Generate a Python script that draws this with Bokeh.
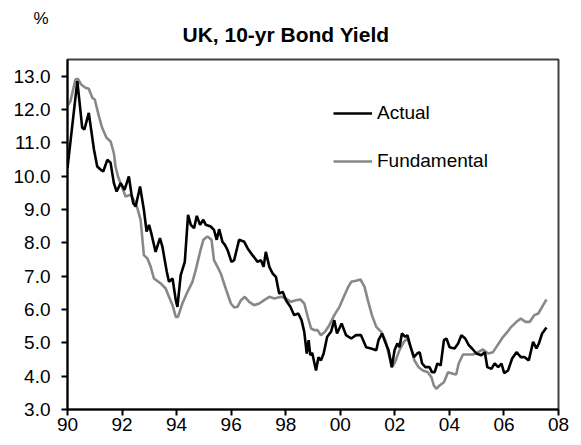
from bokeh.plotting import figure
from bokeh.models import Range1d, FixedTicker, Legend, LegendItem, Title
from bokeh.embed import file_html
from bokeh.resources import INLINE

title_text = "UK, 10-yr Bond Yield"
unit_text = "%"
x_ticks = [1990, 1992, 1994, 1996, 1998, 2000, 2002, 2004, 2006, 2008]
x_tick_labels = ["90", "92", "94", "96", "98", "00", "02", "04", "06", "08"]
y_ticks = [3, 4, 5, 6, 7, 8, 9, 10, 11, 12, 13]
y_tick_labels = ["3.0", "4.0", "5.0", "6.0", "7.0", "8.0", "9.0", "10.0", "11.0", "12.0", "13.0"]

actual_t = [1990.00, 1990.36, 1990.54, 1990.62, 1990.78, 1990.97, 1991.09, 1991.21, 1991.31, 1991.46,
            1991.58, 1991.70, 1991.80, 1991.95, 1992.09, 1992.25, 1992.34, 1992.41, 1992.50, 1992.66,
            1992.74, 1992.80, 1992.90, 1992.99, 1993.07, 1993.23, 1993.39, 1993.48, 1993.64, 1993.72,
            1993.85, 1993.97, 1994.03, 1994.15, 1994.30, 1994.42, 1994.52, 1994.64, 1994.74, 1994.86,
            1994.98, 1995.07, 1995.25, 1995.37, 1995.47, 1995.56, 1995.68, 1995.77, 1995.87, 1996.01,
            1996.11, 1996.29, 1996.48, 1996.60, 1996.78, 1996.97, 1997.09, 1997.19, 1997.27, 1997.40,
            1997.52, 1997.64, 1997.76, 1997.89, 1998.01, 1998.17, 1998.31, 1998.46, 1998.58, 1998.68,
            1998.77, 1998.84, 1998.90, 1998.97, 1999.11, 1999.20, 1999.29, 1999.39, 1999.52, 1999.66,
            1999.78, 1999.88, 2000.05, 2000.21, 2000.40, 2000.58, 2000.76, 2000.95, 2001.13, 2001.32,
            2001.40, 2001.53, 2001.62, 2001.77, 2001.89, 2001.99, 2002.09, 2002.17, 2002.26, 2002.38,
            2002.46, 2002.58, 2002.70, 2002.82, 2002.91, 2003.00, 2003.12, 2003.27, 2003.36, 2003.46,
            2003.56, 2003.68, 2003.80, 2003.89, 2004.01, 2004.19, 2004.32, 2004.44, 2004.58, 2004.71,
            2004.83, 2004.99, 2005.17, 2005.30, 2005.39, 2005.54, 2005.66, 2005.79, 2005.91, 2006.01,
            2006.15, 2006.30, 2006.46, 2006.62, 2006.76, 2006.91, 2007.07, 2007.19, 2007.28, 2007.40,
            2007.56]
actual_v = [10.25, 12.85, 11.45, 11.40, 11.90, 10.80, 10.29, 10.20, 10.14, 10.49,
            10.40, 9.79, 9.54, 9.79, 9.59, 9.99, 9.49, 9.19, 9.09, 9.69,
            9.29, 8.99, 8.34, 8.54, 8.29, 7.73, 8.14, 7.88, 7.13, 6.83,
            6.93, 6.28, 6.08, 7.03, 7.43, 8.84, 8.54, 8.44, 8.81, 8.54,
            8.69, 8.54, 8.49, 8.39, 8.09, 8.41, 8.03, 7.94, 7.78, 7.43,
            7.48, 8.09, 8.03, 7.84, 7.63, 7.43, 7.48, 7.28, 7.73, 7.28,
            7.08, 6.98, 6.48, 6.53, 6.28, 6.08, 5.83, 5.88, 5.68, 5.33,
            4.68, 5.08, 4.63, 4.70, 4.17, 4.57, 4.47, 4.68, 5.18, 5.33,
            5.68, 5.28, 5.58, 5.23, 5.13, 5.23, 5.23, 4.87, 4.83, 4.78,
            5.08, 5.28, 5.08, 4.78, 4.27, 4.78, 4.98, 4.87, 5.28, 5.18,
            5.23, 4.87, 4.57, 4.68, 4.72, 4.38, 4.27, 4.27, 4.12, 4.12,
            4.38, 4.32, 5.08, 5.13, 4.87, 4.83, 4.98, 5.23, 5.13, 4.93,
            4.83, 4.68, 4.63, 4.72, 4.27, 4.22, 4.38, 4.27, 4.38, 4.09,
            4.17, 4.53, 4.72, 4.57, 4.57, 4.47, 5.03, 4.83, 4.98, 5.28,
            5.46]

fund_t = [1990.00, 1990.11, 1990.29, 1990.38, 1990.50, 1990.66, 1990.78, 1990.91, 1991.00, 1991.15,
          1991.27, 1991.43, 1991.58, 1991.70, 1991.76, 1991.85, 1991.97, 1992.13, 1992.31, 1992.46,
          1992.56, 1992.68, 1992.80, 1992.93, 1993.05, 1993.17, 1993.42, 1993.60, 1993.72, 1993.85,
          1993.97, 1994.05, 1994.21, 1994.40, 1994.58, 1994.70, 1994.86, 1994.98, 1995.13, 1995.28,
          1995.37, 1995.50, 1995.62, 1995.80, 1995.99, 1996.11, 1996.23, 1996.36, 1996.50, 1996.66,
          1996.84, 1997.03, 1997.21, 1997.40, 1997.58, 1997.83, 1998.01, 1998.19, 1998.38, 1998.54,
          1998.68, 1998.81, 1998.93, 1999.05, 1999.17, 1999.29, 1999.44, 1999.60, 1999.78, 1999.97,
          2000.13, 2000.28, 2000.40, 2000.58, 2000.74, 2000.89, 2001.01, 2001.16, 2001.32, 2001.50,
          2001.65, 2001.77, 2001.89, 2002.01, 2002.17, 2002.33, 2002.46, 2002.58, 2002.72, 2002.87,
          2003.03, 2003.21, 2003.34, 2003.43, 2003.52, 2003.64, 2003.80, 2003.95, 2004.13, 2004.25,
          2004.34, 2004.50, 2004.68, 2004.87, 2005.05, 2005.23, 2005.42, 2005.60, 2005.79, 2005.97,
          2006.13, 2006.27, 2006.46, 2006.62, 2006.79, 2006.95, 2007.11, 2007.26, 2007.40, 2007.56]
fund_v = [12.10, 12.25, 12.90, 12.92, 12.75, 12.65, 12.62, 12.35, 12.30, 11.80,
          11.45, 11.15, 11.04, 10.69, 10.29, 9.99, 9.74, 9.39, 9.44, 9.24,
          9.04, 8.69, 7.63, 7.53, 7.28, 6.93, 6.78, 6.63, 6.38, 6.13,
          5.78, 5.78, 6.18, 6.53, 6.83, 7.18, 7.73, 8.09, 8.19, 8.09,
          7.48, 7.28, 7.08, 6.63, 6.18, 6.06, 6.08, 6.28, 6.38, 6.23,
          6.13, 6.18, 6.28, 6.38, 6.33, 6.38, 6.33, 6.23, 6.28, 6.30,
          6.18, 5.78, 5.43, 5.38, 5.38, 5.23, 5.33, 5.53, 5.83, 6.08,
          6.38, 6.66, 6.83, 6.86, 6.90, 6.68, 6.28, 5.83, 5.48, 5.33,
          5.08, 4.68, 4.27, 4.42, 4.78, 5.03, 5.13, 4.87, 4.47, 4.27,
          4.17, 4.12, 3.97, 3.72, 3.62, 3.72, 3.82, 4.12, 4.07, 4.05,
          4.38, 4.65, 4.65, 4.65, 4.72, 4.80, 4.68, 4.72, 4.96, 5.18,
          5.33, 5.48, 5.63, 5.73, 5.63, 5.63, 5.83, 5.88, 6.08, 6.30]

FONT = "Liberation Sans"

p = figure(width=575, height=440, output_backend="svg", toolbar_location=None,
           x_range=Range1d(1990, 2008), y_range=Range1d(3, 13.5),
           min_border_left=67, min_border_right=17, min_border_top=59, min_border_bottom=31)
# outer title line: the unit marker (negative standoff pulls it down next to the chart title)
p.title = Title(text=unit_text, align="left", offset=-34, standoff=-42,
                text_font=FONT, text_font_size="17px", text_font_style="normal",
                text_color="black")
# inner title line: the chart title
p.add_layout(Title(text=title_text, align="left", offset=115, standoff=28,
                   text_font=FONT, text_font_size="21px", text_font_style="bold",
                   text_color="black"), "above")
p.background_fill_color = "white"
p.border_fill_color = "white"
p.outline_line_color = "#404040"
p.outline_line_width = 2
p.xgrid.grid_line_color = None
p.ygrid.grid_line_color = None

for ax in (p.xaxis[0], p.yaxis[0]):
    ax.axis_line_color = "black"
    ax.axis_line_width = 2
    ax.major_tick_line_color = "black"
    ax.major_tick_line_width = 2
    ax.major_tick_in = 0
    ax.major_tick_out = 6
    ax.minor_tick_line_color = None
    ax.major_label_text_font = FONT
    ax.major_label_text_font_size = "19px"
    ax.major_label_text_color = "black"

p.xaxis.ticker = FixedTicker(ticks=x_ticks)
p.xaxis.major_label_overrides = {t: s for t, s in zip(x_ticks, x_tick_labels)}
p.xaxis.major_label_standoff = 2
p.yaxis.ticker = FixedTicker(ticks=y_ticks)
p.yaxis.major_label_overrides = {t: s for t, s in zip(y_ticks, y_tick_labels)}
p.yaxis.major_label_standoff = 11

r_f = p.line(fund_t, fund_v, line_color="#888888", line_width=2.6)
r_a = p.line(actual_t, actual_v, line_color="black", line_width=2.6)

legend = Legend(items=[LegendItem(label="Actual", renderers=[r_a]),
                       LegendItem(label="Fundamental", renderers=[r_f])],
                location=(266, 237), orientation="vertical",
                glyph_width=39, glyph_height=20, label_height=20, label_standoff=5,
                spacing=26, padding=0, margin=0,
                border_line_color=None, background_fill_alpha=0,
                label_text_font=FONT, label_text_font_size="19px", label_text_color="black")
p.add_layout(legend)

open("out.html", "w").write(file_html(p, INLINE))
